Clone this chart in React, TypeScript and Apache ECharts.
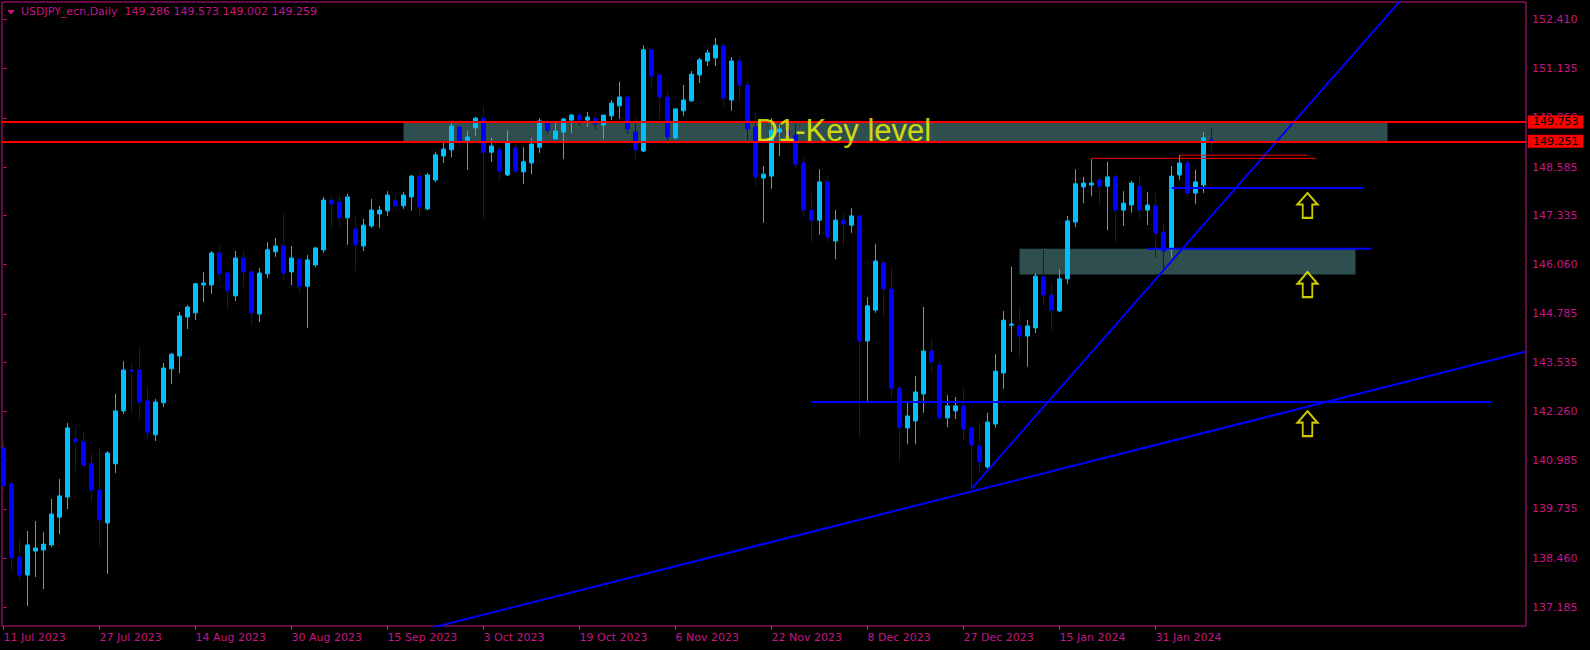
import React, { useEffect, useRef } from 'react';
import * as echarts from 'echarts';

const symbolName = 'USDJPY_ecn';
const timeframe = 'Daily';

// Daily candles, 11 Jul 2023 .. 9 Feb 2024 (index = bar number)
const opens = [
  141.31, 140.38, 138.49, 138.02, 138.64, 138.67, 138.80, 139.52, 140.04, 141.54,
  141.47, 140.90, 140.22, 139.37, 140.90, 142.27, 143.33, 143.33, 142.53, 141.65,
  142.48, 143.36, 143.69, 144.70, 144.81, 145.53, 145.53, 146.36, 145.84, 145.25,
  146.23, 145.87, 144.78, 145.82, 146.39, 146.54, 145.87, 146.20, 145.50, 146.05,
  146.44, 147.73, 147.68, 147.27, 146.98, 146.54, 147.06, 147.37, 147.45, 147.71,
  147.58, 147.81, 148.35, 147.50, 148.25, 148.87, 149.03, 149.62, 149.28, 149.60,
  149.85, 148.97, 149.03, 148.38, 149.08, 148.46, 148.69, 149.10, 149.75, 149.31,
  149.49, 149.80, 149.93, 149.80, 149.85, 149.67, 149.91, 150.17, 150.40, 149.49,
  149.00, 151.62, 150.97, 150.40, 149.34, 150.04, 150.30, 150.97, 151.33, 151.41,
  151.72, 150.32, 151.33, 150.71, 149.62, 148.30, 148.35, 149.49, 149.54, 149.41,
  148.69, 147.47, 147.21, 148.20, 146.67, 147.21, 147.08, 147.32, 144.08, 144.88,
  146.10, 145.43, 142.86, 141.83, 142.01, 142.71, 143.82, 143.46, 142.09, 142.27,
  142.40, 141.83, 141.36, 140.82, 141.93, 143.25, 144.49, 144.47, 144.21, 144.42,
  145.74, 145.27, 144.86, 145.69, 147.16, 148.07, 148.12, 148.25, 148.09, 148.33,
  147.47, 147.60, 148.09, 147.47, 147.58, 146.90, 146.44, 148.38, 148.69, 147.91,
  148.12, 149.286
];
const closes = [
  140.33, 138.47, 138.02, 138.80, 138.72, 138.82, 139.60, 140.07, 141.83, 141.47,
  140.87, 140.22, 139.45, 141.18, 142.27, 143.33, 143.30, 142.50, 141.72, 142.50,
  143.38, 143.74, 144.73, 144.96, 145.56, 145.58, 146.36, 145.82, 145.38, 146.23,
  145.87, 144.81, 145.84, 146.44, 146.54, 145.84, 146.23, 145.50, 146.18, 146.49,
  147.73, 147.63, 147.27, 147.81, 146.57, 147.08, 147.47, 147.47, 147.86, 147.58,
  147.86, 148.35, 147.55, 148.38, 148.90, 149.05, 149.65, 149.28, 149.36, 149.85,
  148.97, 149.13, 148.48, 149.23, 148.48, 148.72, 149.18, 149.78, 149.54, 149.52,
  149.83, 149.93, 149.80, 149.88, 149.70, 149.93, 150.24, 150.40, 149.57, 149.03,
  151.62, 150.94, 150.40, 149.36, 150.09, 150.32, 150.99, 151.36, 151.54, 151.74,
  150.37, 151.33, 150.71, 149.57, 148.33, 148.40, 149.54, 149.57, 149.41, 148.66,
  147.47, 147.21, 148.20, 146.77, 147.21, 147.11, 147.32, 144.08, 144.99, 146.15,
  145.43, 142.86, 141.85, 142.14, 142.76, 143.82, 143.54, 142.09, 142.40, 142.40,
  141.80, 141.39, 140.95, 141.98, 143.30, 144.62, 144.52, 144.21, 144.47, 145.76,
  145.27, 144.88, 145.69, 147.19, 148.15, 148.17, 148.17, 148.09, 148.33, 147.47,
  147.65, 148.17, 147.47, 147.60, 146.88, 146.41, 148.35, 148.69, 147.91, 148.20,
  149.34, 149.259
];
const lows = [
  140.17, 138.13, 137.89, 137.22, 137.97, 137.66, 138.75, 139.08, 139.73, 140.71,
  140.84, 139.91, 138.75, 138.05, 140.66, 142.19, 142.22, 142.04, 141.54, 141.49,
  142.37, 142.97, 143.25, 144.39, 144.62, 145.09, 145.30, 145.61, 144.91, 145.12,
  145.48, 144.52, 144.57, 145.71, 146.26, 145.66, 145.53, 145.32, 144.42, 146.00,
  146.36, 147.01, 147.03, 146.57, 145.89, 146.41, 147.01, 147.01, 147.32, 147.55,
  147.50, 147.45, 147.32, 147.47, 148.20, 148.69, 148.84, 149.13, 148.51, 149.39,
  147.24, 148.72, 148.25, 148.35, 148.43, 148.15, 148.40, 148.95, 149.44, 149.31,
  148.79, 149.47, 149.65, 149.62, 149.54, 149.31, 149.80, 149.83, 149.44, 148.79,
  148.97, 150.66, 149.83, 149.18, 149.31, 149.91, 150.27, 150.76, 151.20, 151.20,
  150.14, 150.04, 150.27, 149.18, 148.09, 147.14, 148.02, 148.87, 149.18, 148.53,
  147.32, 146.64, 146.83, 146.64, 146.20, 146.54, 146.88, 141.59, 142.53, 144.81,
  144.70, 142.60, 140.95, 141.41, 141.41, 142.22, 143.25, 142.04, 141.85, 142.06,
  141.52, 140.27, 140.66, 140.77, 141.83, 142.84, 143.80, 143.64, 143.41, 144.29,
  145.01, 144.34, 144.83, 145.56, 147.03, 147.65, 147.83, 147.60, 146.95, 146.64,
  147.06, 147.40, 147.24, 147.08, 146.23, 145.90, 146.23, 148.25, 147.81, 147.63,
  147.91, 149.002
];
const highs = [
  141.47, 140.43, 138.95, 139.16, 139.42, 139.13, 139.99, 140.51, 141.96, 141.83,
  141.75, 141.18, 141.34, 141.23, 142.71, 143.56, 143.49, 143.90, 142.92, 142.58,
  143.51, 143.77, 144.83, 145.01, 145.58, 145.87, 146.41, 146.57, 145.87, 146.41,
  146.41, 145.89, 145.97, 146.64, 146.75, 147.40, 146.54, 146.23, 146.31, 146.51,
  147.81, 147.83, 147.89, 147.89, 147.29, 147.24, 147.76, 147.58, 147.96, 147.89,
  147.94, 148.38, 148.48, 148.43, 148.97, 149.21, 149.72, 149.62, 149.52, 149.88,
  150.17, 149.34, 149.13, 149.54, 149.23, 149.10, 149.34, 149.85, 149.80, 149.75,
  149.85, 149.96, 149.98, 150.01, 150.01, 149.93, 150.32, 150.79, 150.42, 149.88,
  151.74, 151.69, 150.97, 150.53, 150.09, 150.71, 151.07, 151.41, 151.62, 151.93,
  151.80, 151.43, 151.46, 150.81, 150.01, 148.61, 149.85, 149.70, 149.75, 149.70,
  148.84, 147.91, 148.53, 148.35, 147.47, 147.40, 147.52, 147.32, 145.22, 146.59,
  146.18, 146.00, 142.92, 142.48, 143.17, 144.96, 144.11, 143.56, 142.68, 142.63,
  142.86, 141.83, 141.93, 142.22, 143.74, 144.86, 146.00, 144.94, 144.62, 145.84,
  146.44, 145.58, 145.94, 147.32, 148.53, 148.33, 148.79, 148.33, 148.72, 148.40,
  147.96, 148.22, 148.35, 147.94, 147.91, 147.14, 148.61, 148.90, 148.79, 148.51,
  149.49, 149.573
];

const xTickPositions = [0, 12, 24, 36, 48, 60, 72, 84, 96, 108, 120, 132, 144];
const xTickLabels = [
  '11 Jul 2023', '27 Jul 2023', '14 Aug 2023', '30 Aug 2023', '15 Sep 2023', '3 Oct 2023',
  '19 Oct 2023', '6 Nov 2023', '22 Nov 2023', '8 Dec 2023', '27 Dec 2023', '15 Jan 2024', '31 Jan 2024'
];
const yTickValues = [
  137.185, 138.46, 139.735, 140.985, 142.26, 143.535, 144.785, 146.06, 147.335, 148.585, 149.86, 151.135, 152.41
];

// Annotations (bar index, price)
const keyLevels = [149.753, 149.251];
const keyZone = [[50, 149.753], [173, 149.251]];
const demandZone = [[127, 146.47], [169, 145.8]];
const trendLineSteep = [[121, 140.25], [176, 153.22]];
const trendLineShallow = [[50, 136.47], [190.34, 143.81]];
const blueLevelPrices = [142.5, 148.04, 146.47];
const blueLevelFrom = [101, 146, 143];
const blueLevelTo = [186, 170, 171];
const redLevelPrices = [148.81, 148.89];
const redLevelFrom = [136, 147];
const redLevelTo = [164, 163];
const arrowPoints = [[163, 147.59], [163, 145.54], [163, 141.94]];
const keyText = 'D1-Key level';
const keyTextPoint = [94, 149.53];

const PINK = '#C71585';
const FONT = 'DejaVu Sans';

export default function App() {
  const ref = useRef<HTMLDivElement>(null);
  useEffect(() => {
    if (!ref.current) return;
    const chart = echarts.init(ref.current, undefined, { renderer: 'svg' });
    const n = opens.length;
    const candles = opens.map((o, i) => [i, o, closes[i], lows[i], highs[i]]);
    const last = n - 1;
    const titleText = `${symbolName},${timeframe}  ${opens[last].toFixed(3)} ${highs[last].toFixed(3)} ${lows[last].toFixed(3)} ${closes[last].toFixed(3)}`;

    const lineSeries = (data: number[][], color: string, width: number) => ({
      type: 'line',
      data,
      symbol: 'none',
      z: 4,
      silent: true,
      lineStyle: { color, width },
      animation: false,
    });

    const series: any[] = [
      {
        type: 'candlestick',
        data: candles,
        encode: { x: 0, y: [1, 2, 3, 4] },
        barWidth: 4,
        z: 2,
        itemStyle: {
          color: '#00BFFF',
          color0: '#0000FF',
          borderColor: '#00BFFF',
          borderColor0: '#0000FF',
          borderWidth: 1,
        },
        markArea: {
          silent: true,
          itemStyle: { color: '#2F4F4F' },
          data: [
            [{ coord: keyZone[0] }, { coord: keyZone[1] }],
            [{ coord: demandZone[0] }, { coord: demandZone[1] }],
          ],
        },
        markLine: {
          silent: true,
          precision: 3,
          symbol: ['none', 'none'],
          lineStyle: { color: '#FF0000', width: 2, type: 'solid' },
          label: {
            show: true,
            position: 'end',
            distance: 2,
            formatter: (p: any) => keyLevels[p.dataIndex].toFixed(3),
            backgroundColor: '#FF0000',
            color: '#000000',
            padding: [1, 5, 1, 5],
            fontFamily: FONT,
            fontSize: 11,
          },
          data: keyLevels.map((v) => ({ yAxis: v })),
        },
      },
      lineSeries(trendLineSteep, '#0000FF', 2),
      lineSeries(trendLineShallow, '#0000FF', 2),
      ...blueLevelPrices.map((p, i) => lineSeries([[blueLevelFrom[i], p], [blueLevelTo[i], p]], '#0000FF', 2)),
      ...redLevelPrices.map((p, i) => lineSeries([[redLevelFrom[i], p], [redLevelTo[i], p]], '#FF0000', 1)),
      {
        type: 'scatter',
        data: arrowPoints,
        z: 5,
        silent: true,
        symbol: 'path://M10.5,0 L21,12 L15.5,12 L15.5,26 L5.5,26 L5.5,12 L0,12 Z',
        symbolSize: [20, 25],
        itemStyle: { color: '#000000', borderColor: '#FFFF00', borderWidth: 2 },
      },
      {
        type: 'scatter',
        data: [keyTextPoint],
        z: 6,
        silent: true,
        symbolSize: 1,
        itemStyle: { color: 'rgba(0,0,0,0)' },
        label: {
          show: true,
          position: 'inside',
          align: 'left',
          verticalAlign: 'middle',
          formatter: keyText,
          color: '#FFFF00',
          fontSize: 31,
          fontFamily: 'Liberation Sans',
        },
      },
    ];

    chart.setOption({
      animation: false,
      backgroundColor: '#000000',
      title: {
        text: titleText,
        left: 21,
        top: 6,
        padding: 0,
        textStyle: { color: PINK, fontSize: 11, fontWeight: 'normal', fontFamily: FONT },
      },
      graphic: [
        {
          type: 'polygon',
          shape: { points: [[7, 10], [15, 10], [11, 14.5]] },
          style: { fill: PINK },
        },
      ],
      grid: {
        left: 2,
        top: 2,
        right: 64,
        bottom: 24,
        show: true,
        borderColor: PINK,
        borderWidth: 1,
        backgroundColor: 'transparent',
        containLabel: false,
      },
      xAxis: {
        type: 'value',
        min: -0.1875,
        max: 190.3125,
        axisLine: { show: false },
        splitLine: { show: false },
        axisTick: { show: true, length: 4, lineStyle: { color: PINK }, customValues: xTickPositions },
        axisLabel: {
          show: true,
          customValues: xTickPositions,
          align: 'left',
          margin: 6,
          color: PINK,
          fontSize: 11,
          fontFamily: FONT,
          formatter: (v: number) => {
            const k = xTickPositions.indexOf(Math.round(v));
            return k >= 0 ? xTickLabels[k] : '';
          },
        },
      },
      yAxis: {
        type: 'value',
        position: 'right',
        min: 136.701,
        max: 152.858,
        scale: true,
        axisLine: { show: false },
        splitLine: { show: false },
        axisTick: { show: true, length: 3, lineStyle: { color: PINK }, customValues: yTickValues },
        axisLabel: {
          show: true,
          customValues: yTickValues,
          margin: 6,
          color: PINK,
          fontSize: 11,
          fontFamily: FONT,
          formatter: (v: number) => v.toFixed(3),
        },
      },
      series,
    });
    return () => chart.dispose();
  }, []);
  return <div ref={ref} style={{ position: 'fixed', left: 0, top: 0, width: 1590, height: 650 }} />;
}
